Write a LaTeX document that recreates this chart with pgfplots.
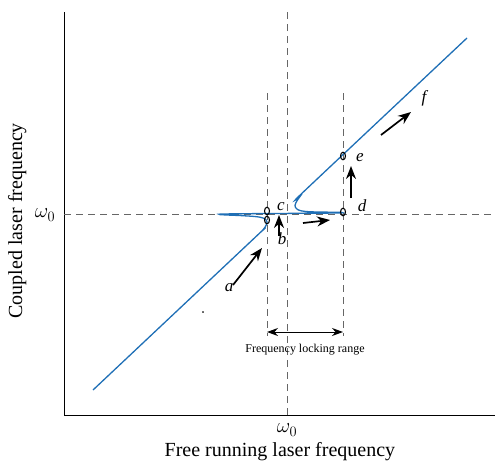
\documentclass[border=0pt]{standalone}
\usepackage{pgfplots}
\pgfplotsset{compat=1.18}
\usepackage{fontspec}
\setmainfont{Liberation Serif}
\usetikzlibrary{arrows.meta}
\definecolor{curveblue}{RGB}{31,111,182}
\begin{document}
\begin{tikzpicture}
\begin{axis}[
    scale only axis,
    width=431pt, height=403pt,
    xmin=-223, xmax=208, ymin=-201, ymax=202,
    axis x line=bottom, axis y line=left,
    axis line style={-, line width=1pt},
    xtick=\empty, ytick=\empty,
    clip=false
    ]
% guide lines
\draw[gray!80!black, line width=0.8pt, dash pattern=on 7pt off 5pt] (axis cs:-223,0) -- (axis cs:208,0);
\draw[gray!80!black, line width=0.8pt, dash pattern=on 7pt off 5pt] (axis cs:0,-201) -- (axis cs:0,202);
\draw[gray!80!black, line width=0.8pt, dash pattern=on 7pt off 5pt] (axis cs:-20,121) -- (axis cs:-20,-122);
\draw[gray!80!black, line width=0.8pt, dash pattern=on 7pt off 5pt] (axis cs:56,121) -- (axis cs:56,-122);
% locking curve
\addplot[curveblue, line width=1.3pt, smooth, tension=0.35] coordinates {
(-194,-176) (-30,-21.6) (-25,-17) (-22,-13.2) (-20.3,-10) (-20,-7.8) (-21,-5.8)
(-23.5,-4.2) (-28,-3) (-36,-2.2) (-48,-1.5) (-60,-1.0) (-67,-0.6) (-68,-0.2)
(-66,0) (-50,0.2) (-30,0.4) (0,0.6) (30,0.8) (50,1.0) (56,1.2) (55,1.6)
(45,1.8) (30,2.0) (20,2.4) (14,3.2) (10.5,4.5) (8.5,6.5) (8,8.5) (8.8,11)
(10.5,14) (13,17.5) (16,21.7) (180,176)
};
% states
\addplot[only marks, mark=o, mark size=3.8pt, mark options={black, line width=1.1pt, xscale=0.65}]
coordinates {(-20,3) (-20,-6) (56,2) (56,58)};
\addplot[only marks, mark=*, mark size=0.5pt, black] coordinates {(-84,-98)};
% arrows
\draw[-{Stealth[length=13pt,width=10pt]}, line width=1.7pt] (axis cs:-54,-71) -- (axis cs:-25,-34);
\draw[-{Stealth[length=13pt,width=10pt]}, line width=1.7pt] (axis cs:-8,-22) -- (axis cs:-8,-1);
\draw[-{Stealth[length=13pt,width=10pt]}, line width=1.7pt] (axis cs:16,-9) -- (axis cs:43,-6);
\draw[-{Stealth[length=13pt,width=10pt]}, line width=1.7pt] (axis cs:64,16) -- (axis cs:64,48);
\draw[-{Stealth[length=13pt,width=10pt]}, line width=1.7pt] (axis cs:94,79) -- (axis cs:124,102);
\draw[{Stealth[length=11pt,width=8pt]}-{Stealth[length=11pt,width=8pt]}, line width=1pt] (axis cs:-20,-118) -- (axis cs:56,-118);
% labels
\node[font=\fontsize{17}{17}\selectfont\itshape] at (axis cs:-58,-74) {a};
\node[font=\fontsize{17}{17}\selectfont\itshape] at (axis cs:-5,-25) {b};
\node[font=\fontsize{17}{17}\selectfont\itshape] at (axis cs:-6,7) {c};
\node[font=\fontsize{17}{17}\selectfont\itshape] at (axis cs:75,8) {d};
\node[font=\fontsize{17}{17}\selectfont\itshape] at (axis cs:73,56) {e};
\node[font=\fontsize{17}{17}\selectfont\itshape] at (axis cs:137,116) {f};
\node[font=\fontsize{12}{12}\selectfont] at (axis cs:18,-136) {Frequency locking range};
\node[font=\fontsize{21}{21}\selectfont] at (axis cs:0,-216) {$\omega_0$};
\node[font=\fontsize{21}{21}\selectfont] at (axis cs:-242,-1) {$\omega_0$};
\node[font=\fontsize{20}{20}\selectfont, anchor=base] at (rel axis cs:0.501,-0.104) {Free running laser frequency};
\node[font=\fontsize{20}{20}\selectfont, anchor=base, rotate=90] at (rel axis cs:-0.0974,0.482) {Coupled laser frequency};
\coordinate (bl) at (rel axis cs:-0.1485,-0.1141);
\coordinate (tr) at (rel axis cs:1,1.0298);
\end{axis}
\pgfresetboundingbox
\path[use as bounding box] (bl) rectangle (tr);
\end{tikzpicture}
\end{document}
